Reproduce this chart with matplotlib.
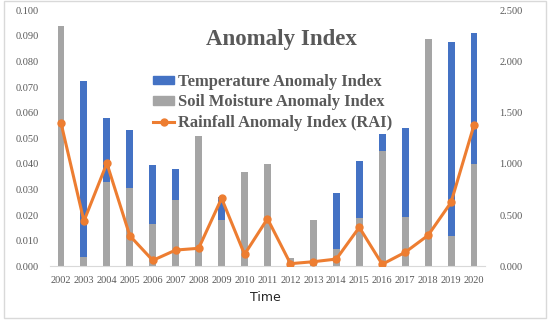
import matplotlib.pyplot as plt
from matplotlib.patches import Patch, Rectangle
from matplotlib.lines import Line2D
from matplotlib.ticker import MultipleLocator, FormatStrFormatter

# --- Data ---
years = ["2002", "2003", "2004", "2005", "2006", "2007", "2008", "2009", "2010", "2011",
         "2012", "2013", "2014", "2015", "2016", "2017", "2018", "2019", "2020"]
soil_moisture = [0.0939, 0.0035, 0.0328, 0.0305, 0.0166, 0.0258, 0.0508, 0.0182, 0.0368, 0.0400,
                 0.0031, 0.0182, 0.0069, 0.0189, 0.0452, 0.0193, 0.0887, 0.0117, 0.0400]
temperature = [0.0, 0.0689, 0.0252, 0.0229, 0.0230, 0.0122, 0.0, 0.0090, 0.0, 0.0,
               0.0, 0.0, 0.0216, 0.0221, 0.0065, 0.0346, 0.0, 0.0758, 0.0510]
rai = [1.402, 0.442, 1.006, 0.299, 0.058, 0.159, 0.176, 0.664, 0.117, 0.465,
       0.026, 0.045, 0.071, 0.381, 0.020, 0.137, 0.303, 0.625, 1.380]

blue = "#4472C4"
gray = "#A5A5A5"
orange = "#ED7D31"
txt = "#595959"
serif = ["Liberation Serif", "DejaVu Serif"]

fig = plt.figure(figsize=(5.5, 3.24), dpi=100)
ax = fig.add_axes([0.09, 0.178, 0.7927, 0.79])
x = list(range(len(years)))

ax.bar(x, soil_moisture, width=0.3, color=gray, zorder=2)
ax.bar(x, temperature, width=0.3, bottom=soil_moisture, color=blue, zorder=2)
ax.set_xlim(-0.5, len(years) - 0.5)
ax.set_ylim(0, 0.1)
ax.yaxis.set_major_locator(MultipleLocator(0.01))
ax.yaxis.set_major_formatter(FormatStrFormatter("%.3f"))
ax.set_xticks(x)
ax.set_xticklabels(years)

ax2 = ax.twinx()
ax2.plot(x, rai, color=orange, lw=2.2, marker="o", ms=5, zorder=3)
ax2.set_ylim(0, 2.5)
ax2.yaxis.set_major_locator(MultipleLocator(0.5))
ax2.yaxis.set_major_formatter(FormatStrFormatter("%.3f"))

for a in (ax, ax2):
    for s in a.spines.values():
        s.set_visible(False)
    a.tick_params(length=0, labelsize=7.5, labelcolor=txt, pad=4)
    for lab in a.get_xticklabels() + a.get_yticklabels():
        lab.set_fontfamily(serif)
ax.spines["bottom"].set_visible(True)
ax.spines["bottom"].set_color("#D9D9D9")
ax.tick_params(axis="x", pad=7)
ax.tick_params(axis="y", pad=8)
ax2.tick_params(axis="y", pad=10)

ax.text(0.532, 0.888, "Anomaly Index", transform=ax.transAxes, ha="center", va="center",
        fontsize=16.5, fontweight="bold", color=txt, family=serif)

handles = [Patch(color=blue), Patch(color=gray),
           Line2D([], [], color=orange, lw=2.2, marker="o", ms=5)]
labels = ["Temperature Anomaly Index", "Soil Moisture Anomaly Index",
          "Rainfall Anomaly Index (RAI)"]
ax2.legend(handles, labels, loc="upper left", bbox_to_anchor=(0.237, 0.752), frameon=False,
           prop={"family": serif, "weight": "bold", "size": 11.85}, labelcolor=txt,
           handlelength=1.31, handleheight=0.4, handletextpad=0.22, labelspacing=0.28,
           borderaxespad=0, borderpad=0)

fig.text(0.482, 0.083, "Time", ha="center", va="center", fontsize=9, color="#262626")
fig.patches.append(Rectangle((0.0064, 0.0185), 0.9866, 0.978, transform=fig.transFigure,
                             fill=False, edgecolor="#D9D9D9", lw=1))

fig.savefig("out.png", dpi=100)
